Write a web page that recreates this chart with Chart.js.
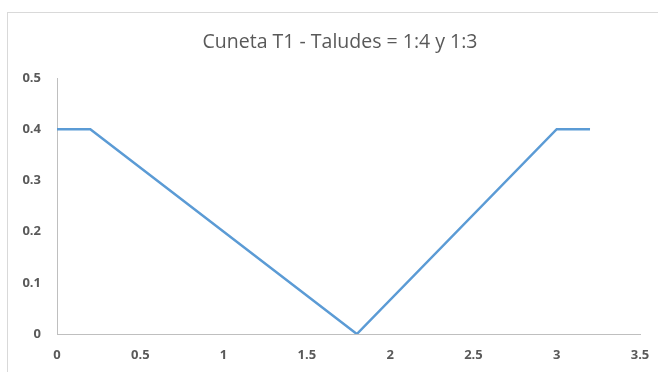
<!DOCTYPE html>
<html>
<head>
<meta charset="utf-8">
<script src="https://cdn.jsdelivr.net/npm/chart.js@4"></script>
<style>
  html, body { margin: 0; padding: 0; background: #fff; }
  #wrap { position: relative; width: 658px; height: 372px; }
  #frame { position: absolute; left: 7px; top: 12px; right: -2px; bottom: -2px;
           border-left: 1px solid #d9d9d9; border-top: 1px solid #d9d9d9; }
  canvas { position: absolute; left: 0; top: 0; }
</style>
</head>
<body>
<div id="wrap">
  <div id="frame"></div>
  <canvas id="c" width="658" height="372"></canvas>
</div>
<script>
// Cross-section of the T1 ditch: horizontal distance (m) vs. height (m)
const chartTitle = 'Cuneta T1 - Taludes = 1:4 y 1:3';
const distance = [0, 0.2, 1.8, 3.0, 3.2];
const height   = [0.4, 0.4, 0, 0.4, 0.4];
const xTicks = [0, 0.5, 1, 1.5, 2, 2.5, 3, 3.5];
const yTicks = [0, 0.1, 0.2, 0.3, 0.4, 0.5];

const points = distance.map((x, i) => ({ x: x, y: height[i] }));
const tickFont = { family: "'Open Sans', sans-serif", size: 13, weight: 'bold' };
const inkColor = '#595959';

// Title centred over the whole frame (frame spans x = 7 .. ~673)
const frameTitle = {
  id: 'frameTitle',
  afterDraw(chart) {
    const ctx = chart.ctx;
    ctx.save();
    ctx.font = "normal 19.5px 'Open Sans', sans-serif";
    ctx.fillStyle = inkColor;
    ctx.textAlign = 'center';
    ctx.textBaseline = 'middle';
    ctx.fillText(chartTitle, 340, 42);
    ctx.restore();
  }
};

new Chart(document.getElementById('c'), {
  type: 'scatter',
  data: {
    datasets: [{
      data: points,
      showLine: true,
      borderColor: '#5B9BD5',
      borderWidth: 2.5,
      pointRadius: 0,
      pointHoverRadius: 0,
      fill: false,
      tension: 0
    }]
  },
  plugins: [frameTitle],
  options: {
    responsive: false,
    animation: false,
    layout: { padding: { left: 0, right: 18, top: 78, bottom: 0 } },
    plugins: {
      legend: { display: false },
      tooltip: { enabled: false },
      title: { display: false }
    },
    scales: {
      x: {
        type: 'linear',
        min: xTicks[0],
        max: xTicks[xTicks.length - 1],
        afterBuildTicks: s => { s.ticks = xTicks.map(v => ({ value: v })); },
        afterFit: s => { s.height = 38; s.paddingLeft = 0; s.paddingRight = 0; },
        grid: { display: false, drawTicks: false },
        border: { display: true, color: '#bfbfbf', width: 1 },
        ticks: { color: inkColor, font: tickFont, padding: 13, maxRotation: 0,
                 callback: v => String(v) }
      },
      y: {
        type: 'linear',
        min: yTicks[0],
        max: yTicks[yTicks.length - 1],
        afterBuildTicks: s => { s.ticks = yTicks.map(v => ({ value: v })); },
        afterFit: s => { s.width = 57; s.paddingTop = 0; s.paddingBottom = 0; },
        grid: { display: false, drawTicks: false },
        border: { display: true, color: '#bfbfbf', width: 1 },
        ticks: { color: inkColor, font: tickFont, padding: 16,
                 callback: v => String(Math.round(v * 10) / 10) }
      }
    }
  }
});
</script>
</body>
</html>
